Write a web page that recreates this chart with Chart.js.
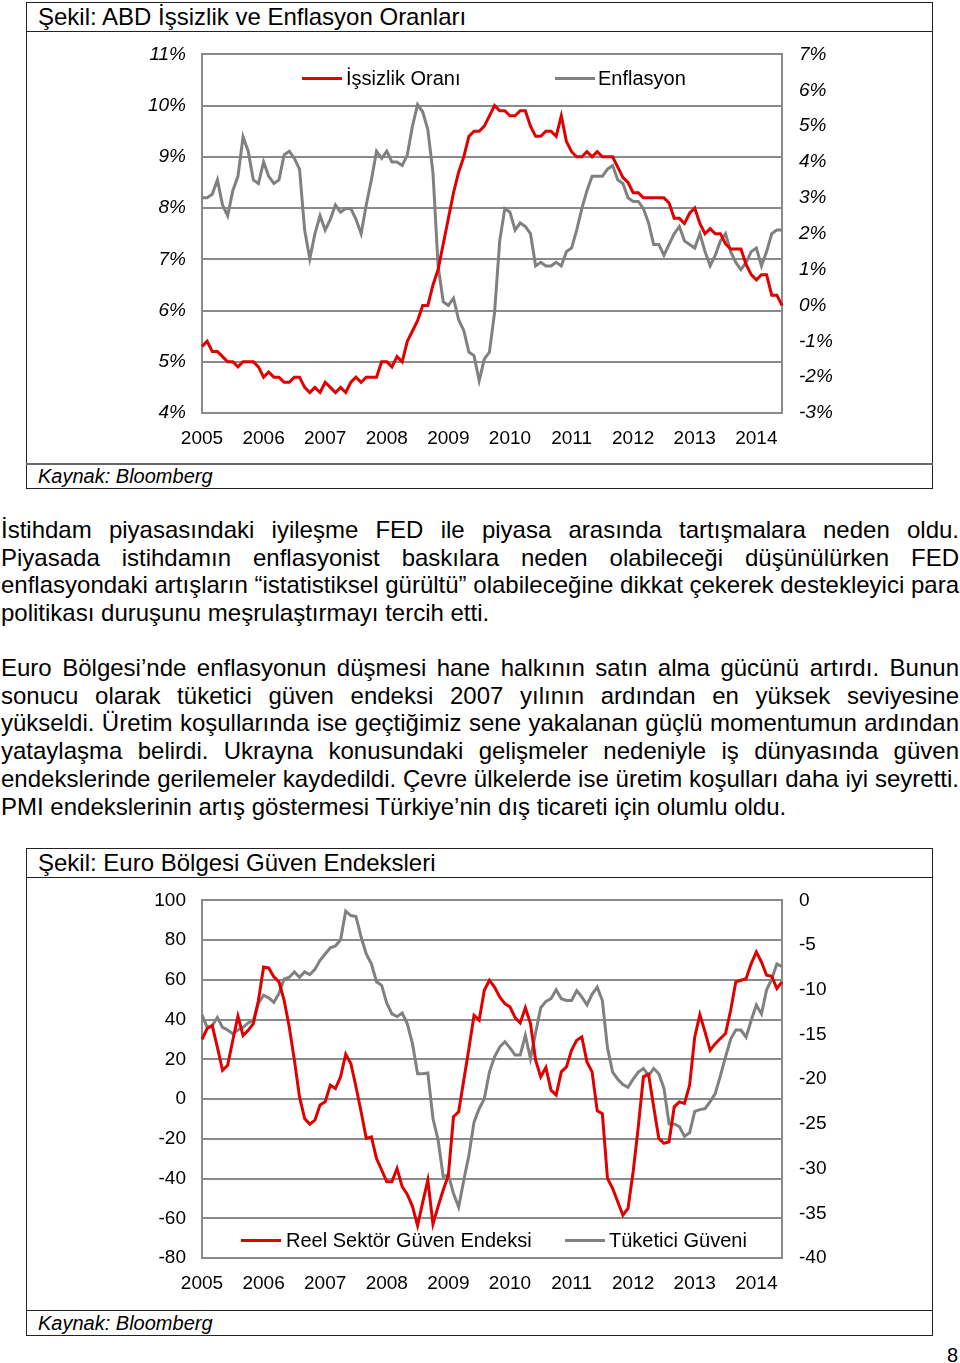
<!DOCTYPE html>
<html>
<head>
<meta charset="utf-8">
<script src="https://cdn.jsdelivr.net/npm/chart.js@4.4.1/dist/chart.umd.min.js"></script>
<style>
  body { margin: 0; background: #fff; font-family: "Liberation Sans", Arial, sans-serif; color: #000; }
  #page { position: relative; width: 960px; height: 1363px; overflow: hidden; }
  .box { position: absolute; left: 26px; width: 907px; border: 1px solid #222; box-sizing: border-box; }
  .boxTitle { position: absolute; left: 38px; font-size: 24px; line-height: 28px; }
  .sep { position: absolute; left: 26px; width: 907px; height: 0; border-top: 1px solid #222; }
  .sepSrc { position: absolute; left: 26px; width: 907px; height: 0; border-top: 2px solid #666; }
  .src { position: absolute; left: 38px; font-size: 20px; font-style: italic; line-height: 24px; }
  canvas { position: absolute; }
  .leg { position: absolute; font-size: 20px; line-height: 22px; white-space: nowrap; }
  .leg i { position: absolute; height: 3px; }
  .txt { position: absolute; left: 1px; width: 958px; font-size: 24px; line-height: 27.7px; }
  .txt div { text-align: justify; text-align-last: justify; white-space: nowrap; }
  .txt div.last { text-align: left; text-align-last: left; }
  #pageNo { position: absolute; left: 947px; top: 1344px; font-size: 20px; }
</style>
</head>
<body>
<div id="page">
  <!-- chart 1 frame -->
  <div class="box" style="top:2px;height:487px;"></div>
  <div class="boxTitle" style="top:3px;">Şekil: ABD İşsizlik ve Enflasyon Oranları</div>
  <div class="sep" style="top:31px;"></div>
  <canvas id="chart1" width="906" height="437" style="left:27px;top:26px;"></canvas>
  <div class="leg" style="left:302px;top:67px;"><i style="left:0;top:10px;width:40px;background:#e00000;"></i><span style="margin-left:44px;">İşsizlik Oranı</span></div>
  <div class="leg" style="left:555px;top:67px;"><i style="left:0;top:10px;width:40px;background:#808080;"></i><span style="margin-left:43px;">Enflasyon</span></div>
  <div class="sepSrc" style="top:463px;"></div>
  <div class="src" style="top:464px;">Kaynak: Bloomberg</div>

  <div class="txt" style="top:516px;">
    <div>İstihdam piyasasındaki iyileşme FED ile piyasa arasında tartışmalara neden oldu.</div>
    <div>Piyasada istihdamın enflasyonist baskılara neden olabileceği düşünülürken FED</div>
    <div>enflasyondaki artışların “istatistiksel gürültü” olabileceğine dikkat çekerek destekleyici para</div>
    <div class="last">politikası duruşunu meşrulaştırmayı tercih etti.</div>
  </div>
  <div class="txt" style="top:654px;">
    <div>Euro Bölgesi’nde enflasyonun düşmesi hane halkının satın alma gücünü artırdı. Bunun</div>
    <div>sonucu olarak tüketici güven endeksi 2007 yılının ardından en yüksek seviyesine</div>
    <div>yükseldi. Üretim koşullarında ise geçtiğimiz sene yakalanan güçlü momentumun ardından</div>
    <div>yataylaşma belirdi. Ukrayna konusundaki gelişmeler nedeniyle iş dünyasında güven</div>
    <div>endekslerinde gerilemeler kaydedildi. Çevre ülkelerde ise üretim koşulları daha iyi seyretti.</div>
    <div class="last">PMI endekslerinin artış göstermesi Türkiye’nin dış ticareti için olumlu oldu.</div>
  </div>

  <!-- chart 2 frame -->
  <div class="box" style="top:848px;height:488px;"></div>
  <div class="boxTitle" style="top:849px;">Şekil: Euro Bölgesi Güven Endeksleri</div>
  <div class="sep" style="top:877px;"></div>
  <canvas id="chart2" width="906" height="438" style="left:27px;top:872px;"></canvas>
  <div class="leg" style="left:241px;top:1229px;"><i style="left:0;top:10px;width:40px;background:#e00000;"></i><span style="margin-left:45px;">Reel Sektör Güven Endeksi</span></div>
  <div class="leg" style="left:565px;top:1229px;"><i style="left:0;top:10px;width:40px;background:#808080;"></i><span style="margin-left:44px;">Tüketici Güveni</span></div>
  <div class="sep" style="top:1310px;"></div>
  <div class="src" style="top:1311px;">Kaynak: Bloomberg</div>

  <div id="pageNo">8</div>
</div>

<script>
// tick labels on the time axis
const years = ['2005', '2006', '2007', '2008', '2009', '2010', '2011', '2012', '2013', '2014'];
const monthCount = 114; // Jan 2005 - Jun 2014

// ABD issizlik orani (%), left axis
const unemployment = [
  5.3, 5.4, 5.2, 5.2, 5.1, 5.0, 5.0, 4.9, 5.0, 5.0, 5.0, 4.9,
  4.7, 4.8, 4.7, 4.7, 4.6, 4.6, 4.7, 4.7, 4.5, 4.4, 4.5, 4.4,
  4.6, 4.5, 4.4, 4.5, 4.4, 4.6, 4.7, 4.6, 4.7, 4.7, 4.7, 5.0,
  5.0, 4.9, 5.1, 5.0, 5.4, 5.6, 5.8, 6.1, 6.1, 6.5, 6.8, 7.3,
  7.8, 8.3, 8.7, 9.0, 9.4, 9.5, 9.5, 9.6, 9.8, 10.0, 9.9, 9.9,
  9.8, 9.8, 9.9, 9.9, 9.6, 9.4, 9.4, 9.5, 9.5, 9.4, 9.8, 9.3,
  9.1, 9.0, 9.0, 9.1, 9.0, 9.1, 9.0, 9.0, 9.0, 8.8, 8.6, 8.5,
  8.3, 8.3, 8.2, 8.2, 8.2, 8.2, 8.2, 8.1, 7.8, 7.8, 7.7, 7.9,
  8.0, 7.7, 7.5, 7.6, 7.5, 7.5, 7.3, 7.2, 7.2, 7.2, 6.9, 6.7,
  6.6, 6.7, 6.7, 6.3, 6.3, 6.1
];

// ABD enflasyon (% yillik), right axis
const inflation = [
  3.0, 3.0, 3.1, 3.5, 2.8, 2.5, 3.2, 3.6, 4.7, 4.3, 3.5, 3.4,
  4.0, 3.6, 3.4, 3.5, 4.2, 4.3, 4.1, 3.8, 2.1, 1.3, 2.0, 2.5,
  2.1, 2.4, 2.8, 2.6, 2.7, 2.7, 2.4, 2.0, 2.8, 3.5, 4.3, 4.1,
  4.3, 4.0, 4.0, 3.9, 4.2, 5.0, 5.6, 5.4, 4.9, 3.7, 1.1, 0.1,
  0.0, 0.2, -0.4, -0.7, -1.3, -1.4, -2.1, -1.5, -1.3, -0.2, 1.8, 2.7,
  2.6, 2.1, 2.3, 2.2, 2.0, 1.1, 1.2, 1.1, 1.1, 1.2, 1.1, 1.5,
  1.6, 2.1, 2.7, 3.2, 3.6, 3.6, 3.6, 3.8, 3.9, 3.5, 3.4, 3.0,
  2.9, 2.9, 2.7, 2.3, 1.7, 1.7, 1.4, 1.7, 2.0, 2.2, 1.8, 1.7,
  1.6, 2.0, 1.5, 1.1, 1.4, 1.8, 2.0, 1.5, 1.2, 1.0, 1.2, 1.5,
  1.6, 1.1, 1.5, 2.0, 2.1, 2.1
];

// Euro bolgesi reel sektor guven endeksi, left axis
const businessConf = [
  30, 35.5, 37, 26, 14.5, 17, 29.6, 41.7, 32, 34.6, 38, 49.7,
  66.5, 66, 61.5, 59, 49.7, 36.3, 19.6, 1.1, -9.8, -12.6, -10.6, -3,
  -1.4, 7, 5.3, 11.2, 22.6, 17.9, 6.2, -6.4, -19.8, -19, -29.9, -35.7,
  -41.6, -41.6, -34.9, -44.1, -48, -54, -63.7, -52, -40.8, -62.9, -54, -45.8,
  -38.3, -8.9, -6.4, 9.5, 25.4, 42.2, 39.7, 54.8, 59.8, 56.4, 51.4, 48,
  46.4, 41, 38.3, 46, 38, 19.6, 11.2, 15.9, 4.5, 2, 13.7, 16.2,
  24.6, 29.6, 31.3, 18.7, 13.7, -5.9, -7.3, -39.9, -45, -51.7, -58.4, -55,
  -36.6, -14, 11.2, 12.5, -3.9, -19.8, -22.3, -21.5, -3.9, -1.4, -2.2, 7,
  31.3, 42.5, 33.8, 24.6, 27.9, 30.5, 33, 44.7, 59, 59.8, 60.6, 68.2,
  74, 69, 62.3, 61.8, 55.6, 59
];

// Euro bolgesi tuketici guveni, right axis
const consumerConf = [
  -12.8, -14.2, -14, -13.1, -14.2, -14.5, -14.9, -14.5, -14.2, -13.7, -13.4, -11.5,
  -10.6, -10.9, -11.4, -10.4, -8.8, -8.6, -8, -8.6, -8, -8.3, -7.7, -6.7,
  -6, -5.3, -5.1, -4.4, -1.2, -1.7, -1.8, -4.1, -6, -7.1, -9.1, -9.5,
  -11.5, -12.7, -13, -12.6, -13.8, -16, -19.4, -19.4, -19.3, -24.4, -26.8, -30.9,
  -30.7, -32.8, -34.3, -31.3, -28.5, -24.8, -23.3, -22.2, -19.2, -17.5, -16.4, -15.8,
  -16.5, -17.3, -17.3, -15.1, -17.7, -14.8, -12, -11.3, -11, -10, -11, -11.2,
  -11.2, -10.1, -10.8, -11.7, -10.5, -9.7, -11.2, -16.5, -19.2, -20, -20.6, -20.9,
  -20, -19.2, -18.8, -19.6, -18.8, -19.4, -21, -25, -25, -25.3, -26.4, -26,
  -23.6, -23.4, -23.3, -22.5, -21.6, -19.6, -17.5, -15.5, -14.5, -14.5, -15.3, -13.4,
  -11.7, -12.7, -10, -8.8, -7.1, -7.4
];

// monthly categories
let months = [];
years.forEach(y => {
    for (let m = 1; m <= 12; m++) months.push(y + '-' + m);
});
months = months.slice(0, monthCount);

const RED = '#e00000';
const GRAY = '#808080';
const GRID = '#8a8a8a';
const FONT = 'Liberation Sans';

function makeChart(canvasId, leftData, rightData, left, right, italic, xHeight) {
    let ctx = document.getElementById(canvasId).getContext('2d');
    return new Chart(ctx, {
        type: 'line',
        data: {
            labels: months,
            datasets: [
                {
                    data: leftData,
                    yAxisID: 'yL',
                    borderColor: RED,
                    borderWidth: 3,
                    pointRadius: 0,
                    tension: 0,
                    fill: false
                },
                {
                    data: rightData,
                    yAxisID: 'yR',
                    borderColor: GRAY,
                    borderWidth: 3,
                    pointRadius: 0,
                    tension: 0,
                    fill: false
                }
            ]
        },
        options: {
            responsive: false,
            animation: false,
            devicePixelRatio: 1,
            layout: { padding: { top: 16, left: 0, right: 0, bottom: 0 } },
            plugins: { legend: { display: false }, tooltip: { enabled: false } },
            scales: {
                x: {
                    type: 'category',
                    offset: false,
                    grid: { display: false, drawTicks: false },
                    border: { display: true, color: GRID, width: 2 },
                    ticks: {
                        autoSkip: false,
                        maxRotation: 0,
                        padding: 14,
                        color: '#000',
                        font: { family: FONT, size: 19 },
                        callback: (v, i) => (i % 12 === 0 ? years[i / 12] : '')
                    },
                    afterFit: (scale) => { scale.height = xHeight; }
                },
                yL: {
                    position: 'left',
                    min: left.min,
                    max: left.max,
                    grid: { color: GRID, lineWidth: 2, drawTicks: false },
                    border: { display: true, color: GRID, width: 2 },
                    ticks: {
                        stepSize: left.step,
                        padding: 16,
                        color: '#000',
                        font: { family: FONT, size: 19, style: italic ? 'italic' : 'normal' },
                        callback: left.fmt
                    },
                    afterFit: (scale) => { scale.width = 175; }
                },
                yR: {
                    position: 'right',
                    min: right.min,
                    max: right.max,
                    grid: { display: false, drawTicks: false },
                    border: { display: true, color: GRID, width: 2 },
                    ticks: {
                        stepSize: right.step,
                        padding: 17,
                        color: '#000',
                        font: { family: FONT, size: 19, style: italic ? 'italic' : 'normal' },
                        callback: right.fmt
                    },
                    afterFit: (scale) => { scale.width = 151; }
                }
            }
        }
    });
}

makeChart('chart1', unemployment, inflation,
    { min: 4, max: 11, step: 1, fmt: v => v + '%' },
    { min: -3, max: 7, step: 1, fmt: v => v + '%' },
    true, 50);

makeChart('chart2', businessConf, consumerConf,
    { min: -80, max: 100, step: 20, fmt: v => v },
    { min: -40, max: 0, step: 5, fmt: v => v },
    false, 52);
</script>
</body>
</html>
